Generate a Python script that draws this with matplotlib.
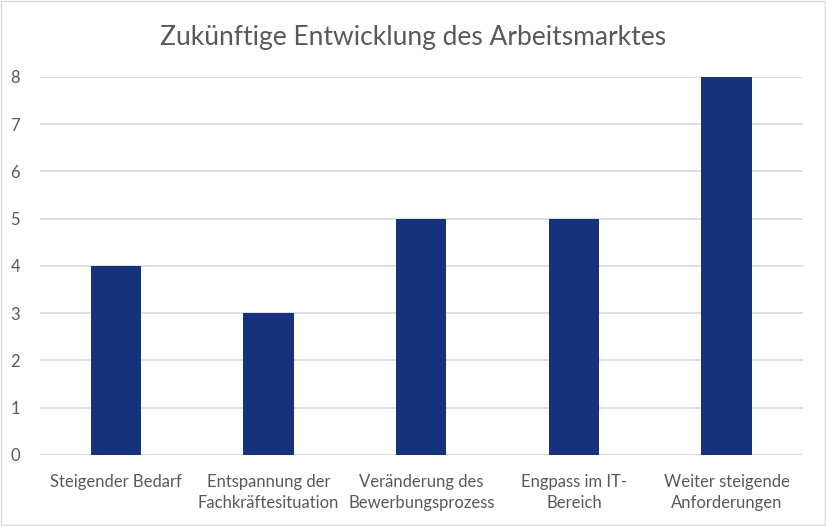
import numpy as np
from matplotlib import pyplot as plt
from matplotlib.patches import Rectangle

categories = ['Steigender Bedarf', 'Entspannung der\nFachkräftesituation',
              'Veränderung des\nBewerbungsprozess', 'Engpass im IT-\nBereich',
              'Weiter steigende\nAnforderungen']
values = [4, 3, 5, 5, 8]
yticks = [0, 1, 2, 3, 4, 5, 6, 7, 8]

plt.rcParams['font.family'] = ['Lato', 'DejaVu Sans']
txt = '#595959'

fig = plt.figure(figsize=(8.26, 5.26), dpi=100)
ax = fig.add_axes([0.048, 0.135, 0.924, 0.719])
x = np.arange(len(categories))
ax.bar(x, values, width=0.33, color='#17327C', zorder=3)
ax.set_xlim(-0.5, len(categories) - 0.5)
ax.set_ylim(0, 8)
ax.set_yticks(yticks)
ax.set_xticks(x)
ax.set_xticklabels(categories, fontsize=12, color=txt, linespacing=1.35)
ax.tick_params(axis='y', labelsize=12, labelcolor=txt, length=0, pad=14)
ax.tick_params(axis='x', length=0, pad=14)
ax.grid(axis='y', color='#D9D9D9', linewidth=1.2, zorder=0)
for s in ax.spines.values():
    s.set_visible(False)
ax.axhline(0, color='#D9D9D9', linewidth=1.2, zorder=1)

fig.suptitle('Zukünftige Entwicklung des Arbeitsmarktes', fontsize=19, color=txt, y=0.952)
fig.patches.append(Rectangle((0.001, 0.001), 0.998, 0.997, transform=fig.transFigure,
                             fill=False, edgecolor='#D9D9D9', linewidth=1))
fig.savefig('out.png', dpi=100)
